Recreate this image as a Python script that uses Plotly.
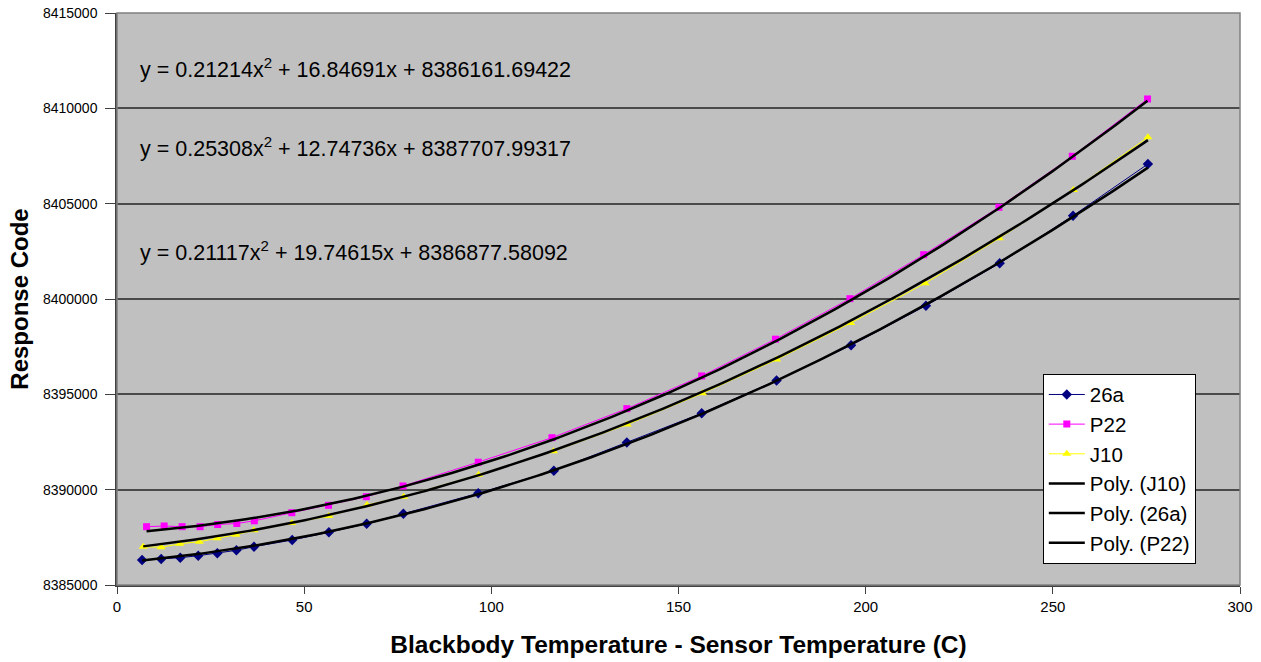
import numpy as np
import plotly.graph_objects as go

# Measured sensor responses (x = blackbody temp - sensor temp, in C)
x_26a = [6.7, 11.8, 16.9, 21.7, 26.8, 31.9, 36.6, 46.8, 56.6, 66.7, 76.5,
         96.5, 116.7, 136.2, 156.2, 176.2, 196.1, 216.1, 235.8, 255.4, 275.4]
y_26a = [8386311, 8386364, 8386432, 8386537, 8386663, 8386820, 8387009,
         8387360, 8387764, 8388215, 8388740, 8389810, 8390995, 8392474,
         8394006, 8395726, 8397572, 8399649, 8401873, 8404370, 8407081]

x_p22 = [7.9, 12.6, 17.4, 22.2, 26.9, 32.0, 36.7, 46.7, 56.5, 66.6, 76.4,
         96.5, 116.2, 136.2, 156.2, 175.9, 195.8, 215.5, 235.6, 255.2, 275.3]
y_p22 = [8388058, 8388095, 8388058, 8388058, 8388173, 8388226, 8388367,
         8388792, 8389180, 8389631, 8390193, 8391441, 8392726, 8394247,
         8395962, 8397892, 8400016, 8402324, 8404810, 8407485, 8410491]

x_j10 = [7.0, 11.8, 16.8, 22.0, 26.8, 31.8, 36.6, 46.7, 56.6, 66.8, 76.6,
         96.6, 116.6, 136.3, 156.4, 176.2, 196.0, 215.9, 235.7, 255.5, 275.4]
y_j10 = [8387009, 8386977, 8387161, 8387271, 8387449, 8387638, 8387869,
         8388252, 8388619, 8389196, 8389631, 8390785, 8392018, 8393418,
         8395055, 8396822, 8398742, 8400824, 8403185, 8405718, 8408482]

# Second-order polynomial trendline coefficients [a, b, c] for a*x^2 + b*x + c
coef_26a = [0.21214, 16.84691, 8386161.69422]
coef_p22 = [0.25308, 12.74736, 8387707.99317]
coef_j10 = [0.21117, 19.74615, 8386877.58092]

x_ticks = [0, 50, 100, 150, 200, 250, 300]
y_ticks = [8385000, 8390000, 8395000, 8400000, 8405000, 8410000, 8415000]
y_tick_text = [str(v) for v in y_ticks]

FONT = "Liberation Sans, Arial, sans-serif"


def trend(xs, coef):
    xx = np.linspace(min(xs), max(xs), 200)
    return xx, np.polyval(coef, xx)


def eq_text(coef):
    a, b, c = coef
    return f"y = {a:.5f}x<sup>2</sup> + {b:.5f}x + {c:.5f}"


fig = go.Figure()

fig.add_trace(go.Scatter(
    x=x_26a, y=y_26a, name="26a", mode="lines+markers",
    line=dict(color="#000080", width=1),
    marker=dict(symbol="diamond", size=8, color="#000080")))
fig.add_trace(go.Scatter(
    x=x_p22, y=y_p22, name="P22", mode="lines+markers",
    line=dict(color="#FF00FF", width=1),
    marker=dict(symbol="square", size=7, color="#FF00FF")))
fig.add_trace(go.Scatter(
    x=x_j10, y=y_j10, name="J10", mode="lines+markers",
    line=dict(color="#FFFF00", width=1),
    marker=dict(symbol="triangle-up", size=8, color="#FFFF00")))

for label, xs, coef in [("Poly. (J10)", x_j10, coef_j10),
                        ("Poly. (26a)", x_26a, coef_26a),
                        ("Poly. (P22)", x_p22, coef_p22)]:
    tx, ty = trend(xs, coef)
    fig.add_trace(go.Scatter(
        x=tx, y=ty, name=label, mode="lines",
        line=dict(color="#000000", width=2.5)))

# Trendline equations
for coef, yv in [(coef_26a, 8412100), (coef_p22, 8407990), (coef_j10, 8402540)]:
    fig.add_annotation(
        x=5.5, y=yv, xref="x", yref="y", text=eq_text(coef),
        showarrow=False, xanchor="left", yanchor="middle",
        font=dict(family=FONT, size=21.5, color="#000000"))

fig.update_layout(
    width=1261, height=662,
    margin=dict(l=117, r=21, t=13, b=77, autoexpand=False),
    paper_bgcolor="#FFFFFF",
    plot_bgcolor="#C0C0C0",
    font=dict(family=FONT, size=15, color="#000000"),
    showlegend=True,
    legend=dict(
        x=0.8244, y=0.3695, xanchor="left", yanchor="top",
        bgcolor="#FFFFFF", bordercolor="#000000", borderwidth=1,
        font=dict(family=FONT, size=20.5, color="#000000"),
        tracegroupgap=0, itemwidth=36),
    xaxis=dict(
        range=[0, 300], tickvals=x_ticks, ticktext=[str(v) for v in x_ticks],
        showgrid=False, zeroline=False, automargin=False,
        showline=True, linecolor="#404040", linewidth=1.5,
        ticks="outside", ticklen=7, tickcolor="#404040",
        tickfont=dict(family=FONT, size=15),
        title=dict(text="<b>Blackbody Temperature - Sensor Temperature (C)</b>",
                   font=dict(family=FONT, size=24.5), standoff=22)),
    yaxis=dict(
        range=[8385000, 8415000], tickvals=y_ticks, ticktext=y_tick_text,
        showgrid=True, gridcolor="#4a4a4a", gridwidth=1.5, zeroline=False,
        automargin=False,
        showline=True, linecolor="#404040", linewidth=1.5,
        ticks="outside", ticklen=10, tickcolor="#404040",
        ticklabelstandoff=5,
        tickfont=dict(family=FONT, size=14),
        title=dict(text="<b>Response Code</b>",
                   font=dict(family=FONT, size=24), standoff=8)),
)

# Plot-area frame
fig.add_shape(type="rect", xref="paper", yref="paper", x0=0, y0=0, x1=1, y1=1,
              line=dict(color="#808080", width=1.5), layer="above")

fig.write_html("out.html")
